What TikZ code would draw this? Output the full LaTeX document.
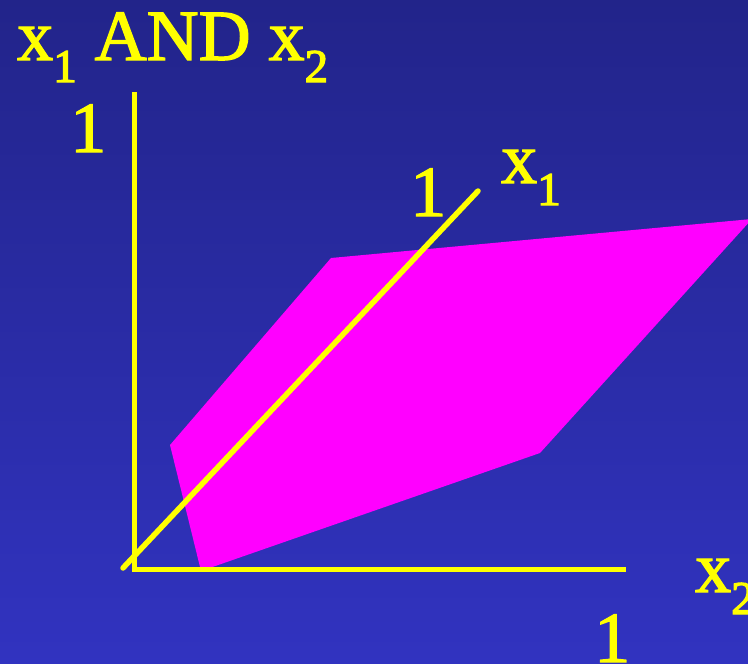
\documentclass[tikz,border=0pt]{standalone}
\usepackage{fontspec}
\newfontfamily\lblfont{Liberation Serif}
\definecolor{bgtop}{RGB}{34,36,138}
\definecolor{bgbot}{RGB}{49,51,192}
\definecolor{ylw}{RGB}{255,255,0}
\definecolor{mag}{RGB}{255,0,255}
\newcommand\mysub[1]{\raisebox{-22pt}{\fontsize{47}{50}\selectfont #1}}
\newcommand\heavy[1]{\special{pdf:literal 2 Tr 1.3 w 1 1 0 RG}#1\special{pdf:literal 0 Tr}}
\tikzset{
  lbl/.style={text=ylw, inner sep=0pt, anchor=base west, font=\lblfont\fontsize{72}{80}\selectfont},
  axis/.style={draw=ylw, line width=5pt},
  diag/.style={draw=ylw, line width=5.5pt, line cap=round},
}
\begin{document}
\begin{tikzpicture}[x=1pt,y=-1pt]
\useasboundingbox (0,0) rectangle (748,664);
\shade[top color=bgtop, bottom color=bgbot] (0,0) rectangle (748,664);
\begin{scope}
\clip (0,0) rectangle (748,664);
\fill[mag] (170,445) -- (331,258) -- (752,219) -- (540,453) -- (201,571) -- cycle;
\end{scope}
\coordinate (ytop) at (134,92);
\coordinate (orig) at (134,569);
\coordinate (xend) at (626,569);
\coordinate (dstart) at (123,568);
\coordinate (dend) at (478,191);
\draw[axis] (ytop) -- (orig) -- (xend);
\draw[diag] (dstart) -- (dend);
\node[lbl] (title) at (17,60) {\heavy{x\mysub{1} AND x\mysub{2}}};
\node[lbl] (yone) at (70,152) {\heavy{1}};
\node[lbl] (done) at (410,216) {\heavy{1}};
\node[lbl] (xone) at (501,183) {\heavy{x\mysub{1}}};
\node[lbl] (xtwo) at (695,592) {\heavy{x\mysub{2}}};
\node[lbl] (bone) at (594,662) {\heavy{1}};
\end{tikzpicture}
\end{document}
